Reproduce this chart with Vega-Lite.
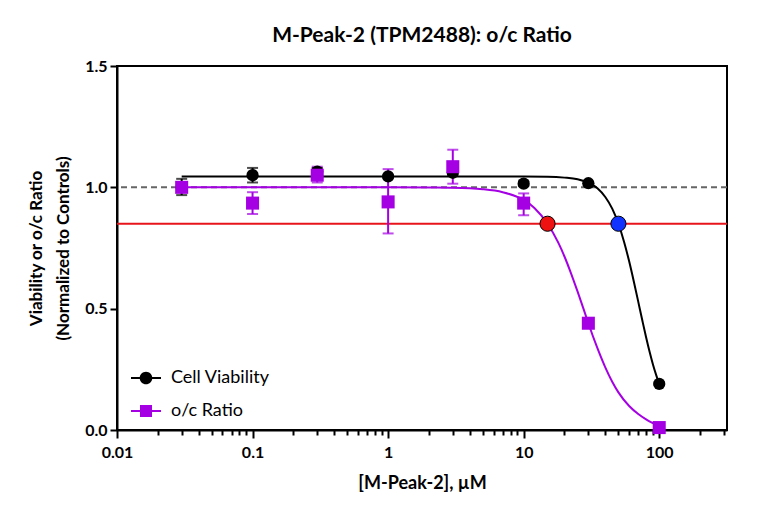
{
  "$schema": "https://vega.github.io/schema/vega-lite/v6.json",
  "width": 610,
  "height": 364,
  "autosize": {"type": "none"},
  "padding": {"left": 117, "top": 66, "right": 48, "bottom": 80},
  "background": "white",
  "config": {
    "font": "Lato",
    "view": {"stroke": "black", "strokeWidth": 2},
    "axis": {"grid": false, "domainColor": "black", "domainWidth": 2, "tickColor": "black", "tickWidth": 2, "labelColor": "black", "titleColor": "black", "labelFont": "Lato", "titleFont": "Lato", "labelFontWeight": "bold", "titleFontWeight": "bold"}
  },
  "title": {"text": "M-Peak-2 (TPM2488): o/c Ratio", "fontSize": 21, "fontWeight": "bold", "font": "Lato", "color": "black", "offset": 12},
  "datasets": {
    "obs": [
      {"series": "Cell Viability", "x": 0.03, "y": 1.0, "lo": 0.968, "hi": 1.035},
      {"series": "Cell Viability", "x": 0.1, "y": 1.05, "lo": 1.02, "hi": 1.08},
      {"series": "Cell Viability", "x": 0.3, "y": 1.065, "lo": 1.05, "hi": 1.08},
      {"series": "Cell Viability", "x": 1, "y": 1.045, "lo": 1.04, "hi": 1.05},
      {"series": "Cell Viability", "x": 3, "y": 1.06, "lo": 1.05, "hi": 1.07},
      {"series": "Cell Viability", "x": 10, "y": 1.015, "lo": 1.005, "hi": 1.025},
      {"series": "Cell Viability", "x": 30, "y": 1.017, "lo": 1.012, "hi": 1.022},
      {"series": "Cell Viability", "x": 100, "y": 0.19, "lo": 0.185, "hi": 0.195},
      {"series": "o/c Ratio", "x": 0.03, "y": 1.0, "lo": 0.985, "hi": 1.015},
      {"series": "o/c Ratio", "x": 0.1, "y": 0.935, "lo": 0.89, "hi": 0.98},
      {"series": "o/c Ratio", "x": 0.3, "y": 1.05, "lo": 1.02, "hi": 1.085},
      {"series": "o/c Ratio", "x": 1, "y": 0.94, "lo": 0.81, "hi": 1.075},
      {"series": "o/c Ratio", "x": 3, "y": 1.085, "lo": 1.015, "hi": 1.155},
      {"series": "o/c Ratio", "x": 10, "y": 0.935, "lo": 0.885, "hi": 0.975},
      {"series": "o/c Ratio", "x": 30, "y": 0.44, "lo": 0.435, "hi": 0.445},
      {"series": "o/c Ratio", "x": 100, "y": 0.01, "lo": 0.008, "hi": 0.012}
    ],
    "curve": [
      {"series": "Cell Viability", "x": 0.03, "y": 1.045},
      {"series": "Cell Viability", "x": 1, "y": 1.045},
      {"series": "Cell Viability", "x": 5, "y": 1.045},
      {"series": "Cell Viability", "x": 10, "y": 1.045},
      {"series": "Cell Viability", "x": 15, "y": 1.044},
      {"series": "Cell Viability", "x": 20, "y": 1.04},
      {"series": "Cell Viability", "x": 25, "y": 1.033},
      {"series": "Cell Viability", "x": 30, "y": 1.019},
      {"series": "Cell Viability", "x": 35, "y": 0.996},
      {"series": "Cell Viability", "x": 40, "y": 0.96},
      {"series": "Cell Viability", "x": 45, "y": 0.912},
      {"series": "Cell Viability", "x": 50, "y": 0.85},
      {"series": "Cell Viability", "x": 55, "y": 0.776},
      {"series": "Cell Viability", "x": 60, "y": 0.695},
      {"series": "Cell Viability", "x": 65, "y": 0.611},
      {"series": "Cell Viability", "x": 70, "y": 0.529},
      {"series": "Cell Viability", "x": 75, "y": 0.452},
      {"series": "Cell Viability", "x": 80, "y": 0.382},
      {"series": "Cell Viability", "x": 85, "y": 0.321},
      {"series": "Cell Viability", "x": 90, "y": 0.269},
      {"series": "Cell Viability", "x": 95, "y": 0.226},
      {"series": "Cell Viability", "x": 100, "y": 0.189},
      {"series": "o/c Ratio", "x": 0.03, "y": 1.0},
      {"series": "o/c Ratio", "x": 1, "y": 1.0},
      {"series": "o/c Ratio", "x": 2, "y": 0.999},
      {"series": "o/c Ratio", "x": 3, "y": 0.998},
      {"series": "o/c Ratio", "x": 5, "y": 0.992},
      {"series": "o/c Ratio", "x": 7, "y": 0.98},
      {"series": "o/c Ratio", "x": 10, "y": 0.948},
      {"series": "o/c Ratio", "x": 12, "y": 0.915},
      {"series": "o/c Ratio", "x": 15, "y": 0.85},
      {"series": "o/c Ratio", "x": 18, "y": 0.772},
      {"series": "o/c Ratio", "x": 20, "y": 0.715},
      {"series": "o/c Ratio", "x": 22, "y": 0.656},
      {"series": "o/c Ratio", "x": 25, "y": 0.57},
      {"series": "o/c Ratio", "x": 28, "y": 0.49},
      {"series": "o/c Ratio", "x": 30, "y": 0.44},
      {"series": "o/c Ratio", "x": 35, "y": 0.337},
      {"series": "o/c Ratio", "x": 40, "y": 0.258},
      {"series": "o/c Ratio", "x": 45, "y": 0.199},
      {"series": "o/c Ratio", "x": 50, "y": 0.155},
      {"series": "o/c Ratio", "x": 60, "y": 0.099},
      {"series": "o/c Ratio", "x": 70, "y": 0.066},
      {"series": "o/c Ratio", "x": 80, "y": 0.044},
      {"series": "o/c Ratio", "x": 90, "y": 0.028},
      {"series": "o/c Ratio", "x": 100, "y": 0.015}
    ],
    "refs": [{"y": 1.0}],
    "cut": [{"y": 0.85}],
    "ic": [
      {"name": "o/c", "x": 15, "y": 0.85},
      {"name": "viab", "x": 50, "y": 0.85}
    ]
  },
  "layer": [
    {
      "data": {"name": "refs"},
      "mark": {"type": "rule", "color": "#666666", "strokeWidth": 2, "strokeDash": [6, 4]},
      "encoding": {"y": {"field": "y", "type": "quantitative"}}
    },
    {
      "data": {"name": "cut"},
      "mark": {"type": "rule", "color": "#e8141c", "strokeWidth": 2},
      "encoding": {"y": {"field": "y", "type": "quantitative"}}
    },
    {
      "data": {"name": "curve"},
      "mark": {"type": "line", "strokeWidth": 2, "interpolate": "monotone"},
      "encoding": {
        "x": {"field": "x", "type": "quantitative"},
        "y": {"field": "y", "type": "quantitative"},
        "color": {"field": "series", "type": "nominal"},
        "order": {"field": "x", "type": "quantitative"}
      }
    },
    {
      "data": {"name": "obs"},
      "mark": {"type": "rule", "strokeWidth": 2},
      "encoding": {
        "x": {"field": "x", "type": "quantitative"},
        "y": {"field": "lo", "type": "quantitative"},
        "y2": {"field": "hi"},
        "color": {"field": "series", "type": "nominal"}
      }
    },
    {
      "data": {"name": "obs"},
      "mark": {"type": "tick", "orient": "horizontal", "size": 11, "thickness": 2},
      "encoding": {
        "x": {"field": "x", "type": "quantitative"},
        "y": {"field": "lo", "type": "quantitative"},
        "color": {"field": "series", "type": "nominal"}
      }
    },
    {
      "data": {"name": "obs"},
      "mark": {"type": "tick", "orient": "horizontal", "size": 11, "thickness": 2},
      "encoding": {
        "x": {"field": "x", "type": "quantitative"},
        "y": {"field": "hi", "type": "quantitative"},
        "color": {"field": "series", "type": "nominal"}
      }
    },
    {
      "data": {"name": "obs"},
      "transform": [{"filter": "datum.series === 'Cell Viability'"}],
      "mark": {"type": "point", "filled": true, "opacity": 1, "shape": "circle", "size": 150},
      "encoding": {
        "x": {"field": "x", "type": "quantitative"},
        "y": {"field": "y", "type": "quantitative"},
        "color": {"field": "series", "type": "nominal"}
      }
    },
    {
      "data": {"name": "obs"},
      "transform": [{"filter": "datum.series === 'o/c Ratio'"}],
      "mark": {"type": "point", "filled": true, "opacity": 1, "shape": "square", "size": 170},
      "encoding": {
        "x": {
          "field": "x", "type": "quantitative",
          "scale": {"type": "log", "domain": [0.01, 316.2], "nice": false},
          "axis": {
            "title": "[M-Peak-2], µM",
            "titleFontSize": 18,
            "titlePadding": 14,
            "labelFontSize": 16,
            "labelPadding": 6,
            "values": [0.01, 0.02, 0.03, 0.04, 0.05, 0.06, 0.07, 0.08, 0.09, 0.1, 0.2, 0.3, 0.4, 0.5, 0.6, 0.7, 0.8, 0.9, 1, 2, 3, 4, 5, 6, 7, 8, 9, 10, 20, 30, 40, 50, 60, 70, 80, 90, 100, 200, 300],
            "labelExpr": "indexof([0.01, 0.1, 1, 10, 100], datum.value) >= 0 ? '' + datum.value : ''",
            "labelOverlap": false,
            "labelBound": false,
            "labelFlush": false,
            "tickSize": {"condition": {"test": "indexof([0.01, 0.1, 1, 10, 100], datum.value) >= 0", "value": 8}, "value": 5}
          }
        },
        "y": {
          "field": "y", "type": "quantitative",
          "scale": {"domain": [0, 1.5], "nice": false},
          "axis": {
            "title": ["Viability or o/c Ratio", "(Normalized to Controls)"],
            "titleFontSize": 17,
            "titlePadding": 12,
            "titleLineHeight": 27,
            "labelFontSize": 16,
            "values": [0, 0.5, 1, 1.5],
            "format": ".1f",
            "tickSize": 7,
            "labelPadding": 3
          }
        },
        "color": {
          "field": "series", "type": "nominal",
          "scale": {"domain": ["Cell Viability", "o/c Ratio"], "range": ["black", "#a400e3"]},
          "legend": {
            "title": null,
            "orient": "none",
            "legendX": 14,
            "legendY": 297,
            "padding": 0,
            "symbolSize": 900,
            "rowPadding": 9,
            "labelOffset": 10,
            "labelFontSize": 18,
            "labelFont": "Lato",
            "labelColor": "black",
            "symbolOpacity": 1,
            "encode": {
              "symbols": {
                "update": {
                  "shape": {"signal": "datum.value === 'Cell Viability' ? 'M-1,-0.07L-0.35,-0.07L-0.35,0.07L-1,0.07Z M0.35,-0.07L1,-0.07L1,0.07L0.35,0.07Z M0.42,0A0.42,0.42 0 1,1 -0.42,0A0.42,0.42 0 1,1 0.42,0Z' : 'M-1,-0.07L-0.35,-0.07L-0.35,0.07L-1,0.07Z M0.35,-0.07L1,-0.07L1,0.07L0.35,0.07Z M-0.4,-0.4L0.4,-0.4L0.4,0.4L-0.4,0.4Z'"},
                  "fill": {"signal": "datum.value === 'Cell Viability' ? 'black' : '#a400e3'"},
                  "stroke": {"value": "transparent"},
                  "strokeWidth": {"value": 0},
                  "opacity": {"value": 1}
                }
              }
            }
          }
        }
      }
    },
    {
      "data": {"name": "ic"},
      "mark": {"type": "point", "filled": true, "opacity": 1, "shape": "circle", "size": 230, "stroke": "black", "strokeWidth": 1},
      "encoding": {
        "x": {"field": "x", "type": "quantitative"},
        "y": {"field": "y", "type": "quantitative"},
        "fill": {
          "field": "name", "type": "nominal",
          "scale": {"domain": ["o/c", "viab"], "range": ["#ee1111", "#1133ff"]},
          "legend": null
        }
      }
    }
  ]
}
